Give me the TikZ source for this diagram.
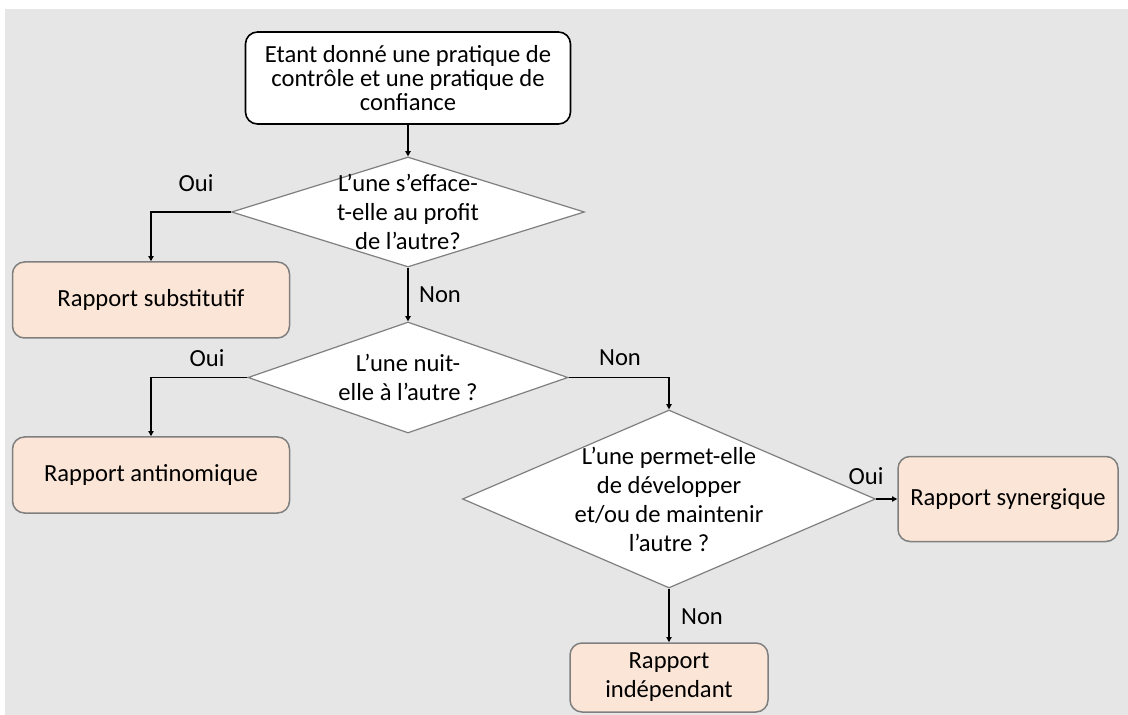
\documentclass[tikz,border=0pt]{standalone}
\usepackage{fontspec}
\setmainfont{Carlito}
\usetikzlibrary{shapes.geometric,arrows.meta}
\definecolor{bggray}{HTML}{E6E6E6}
\definecolor{peach}{HTML}{FBE5D6}
\definecolor{edgegray}{HTML}{7F7F7F}
\tikzset{
  base/.style={font=\fontsize{12.3pt}{14.5pt}\selectfont, align=center, inner sep=0pt},
  startbox/.style={base, font=\fontsize{12.3pt}{11.8pt}\selectfont, draw=black, fill=white, line width=0.8pt, rounded corners=6pt},
  resbox/.style={base, draw=edgegray, fill=peach, line width=0.75pt, rounded corners=6pt},
  dia/.style={diamond, draw=edgegray, fill=white, line width=0.6pt, inner sep=0pt},
  txt/.style={base},
  lbl/.style={base},
  arr/.style={draw=black, line width=0.7pt, -{Triangle[length=2.6pt,width=2.6pt]}}
}
\begin{document}
\begin{tikzpicture}[x=0.5pt,y=-0.5pt]
\fill[white] (0,0) rectangle (1128,715);
\fill[bggray] (5,9) rectangle (1128,715);
\useasboundingbox (0,0) rectangle (1128,715);

\node[startbox, minimum width=162.5pt, minimum height=46pt] (top) at (408,78)
  {Etant donné une pratique de\\contrôle et une pratique de\\confiance};

\node[dia, minimum width=176.5pt, minimum height=55pt] (d1) at (408,212) {};
\node[txt] (t1) at (d1.center) {L’une s’efface-\\t-elle au profit\\de l’autre?};

\node[resbox, minimum width=138.5pt, minimum height=38pt] (sub) at (151,300) {Rapport substitutif};

\node[dia, minimum width=160pt, minimum height=55.5pt] (d2) at (408,377.5) {};
\node[txt] (t2) at (d2.center) {L’une nuit-\\elle à l’autre ?};

\node[resbox, minimum width=138.5pt, minimum height=38pt] (ant) at (151,475) {Rapport antinomique};

\node[dia, minimum width=206.5pt, minimum height=89pt] (d3) at (669,499) {};
\node[txt] (t3) at (d3.center) {L’une permet-elle\\de développer\\et/ou de maintenir\\l’autre ?};

\node[resbox, minimum width=110pt, minimum height=42.5pt] (syn) at (1008,499) {Rapport synergique};

\node[resbox, minimum width=99pt, minimum height=34.5pt] (ind) at (669,677.5) {Rapport\\indépendant};

\draw[arr] (top.south) -- (d1.north);
\draw[arr] (d1.west) -| (sub.north);
\draw[arr] (d1.south) -- (d2.north);
\draw[arr] (d2.west) -| (ant.north);
\draw[arr] (d2.east) -| (d3.north);
\draw[arr] (d3.east) -- (syn.west);
\draw[arr] (d3.south) -- (ind.north);

\node[lbl] (l1) at (196,183) {Oui};
\node[lbl] (l2) at (440,295) {Non};
\node[lbl] (l3) at (207,358) {Oui};
\node[lbl] (l4) at (620,358) {Non};
\node[lbl] (l5) at (866,476) {Oui};
\node[lbl] (l6) at (702,617) {Non};
\end{tikzpicture}
\end{document}
